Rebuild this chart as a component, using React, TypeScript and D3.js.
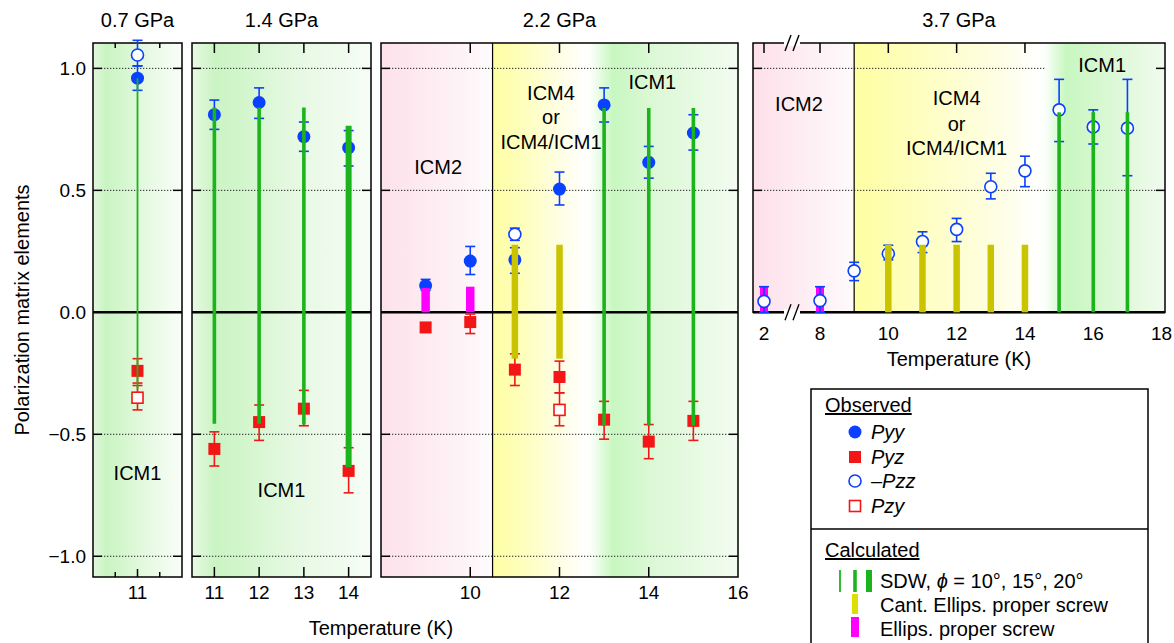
import * as d3 from 'd3';
import React, { useRef, useEffect } from 'react';

// --------------------------------------------------------
// values
// observed rows: [panel, temperature, value, error low, error high]
// --------------------------------------------------------
const panelTitles = ['0.7 GPa', '1.4 GPa', '2.2 GPa', '3.7 GPa'];

const pyy = [
  [0, 11, 0.96, 0.91, 1.01],
  [1, 11, 0.81, 0.75, 0.87],
  [1, 12, 0.86, 0.795, 0.92],
  [1, 13, 0.72, 0.66, 0.78],
  [1, 14, 0.675, 0.60, 0.745],
  [2, 9, 0.11, 0.09, 0.135],
  [2, 10, 0.21, 0.155, 0.27],
  [2, 11, 0.215, 0.16, 0.265],
  [2, 12, 0.505, 0.44, 0.575],
  [2, 13, 0.85, 0.78, 0.92],
  [2, 14, 0.615, 0.55, 0.68],
  [2, 15, 0.735, 0.665, 0.81],
];

const pyz = [
  [0, 11, -0.24, -0.29, -0.19],
  [1, 11, -0.56, -0.63, -0.49],
  [1, 12, -0.45, -0.525, -0.38],
  [1, 13, -0.395, -0.465, -0.32],
  [1, 14, -0.65, -0.74, -0.555],
  [2, 9, -0.062, -0.08, -0.045],
  [2, 10, -0.04, -0.087, -0.007],
  [2, 11, -0.235, -0.30, -0.17],
  [2, 12, -0.265, -0.33, -0.20],
  [2, 13, -0.44, -0.52, -0.365],
  [2, 14, -0.53, -0.60, -0.46],
  [2, 15, -0.445, -0.525, -0.365],
];

const minusPzz = [
  [0, 11, 1.055, 1.01, 1.115],
  [2, 11, 0.32, 0.295, 0.345],
  [3, 2, 0.045, 0.0, 0.105],
  [3, 8, 0.048, 0.0, 0.105],
  [3, 9, 0.17, 0.13, 0.205],
  [3, 10, 0.24, 0.215, 0.275],
  [3, 11, 0.29, 0.245, 0.33],
  [3, 12, 0.34, 0.29, 0.385],
  [3, 13, 0.515, 0.465, 0.57],
  [3, 14, 0.58, 0.515, 0.64],
  [3, 15, 0.83, 0.70, 0.955],
  [3, 16, 0.76, 0.69, 0.83],
  [3, 17, 0.755, 0.56, 0.955],
];

const pzy = [
  [0, 11, -0.35, -0.40, -0.30],
  [2, 12, -0.40, -0.465, -0.33],
];

// calculated rows: [panel, temperature, top, bottom, phi]
const sdw = [
  [0, 11, 0.96, -0.315, 10],
  [1, 11, 0.84, -0.457, 15],
  [1, 12, 0.84, -0.457, 15],
  [1, 13, 0.84, -0.46, 15],
  [1, 14, 0.765, -0.635, 20],
  [2, 13, 0.838, -0.464, 15],
  [2, 14, 0.838, -0.464, 15],
  [2, 15, 0.838, -0.464, 15],
  [3, 15, 0.82, 0, 15],
  [3, 16, 0.82, 0, 15],
  [3, 17, 0.82, 0, 15],
];

// [panel, temperature, top, bottom]
const cantScrew = [
  [2, 11, 0.277, -0.19],
  [2, 12, 0.277, -0.19],
  [3, 10, 0.277, 0],
  [3, 11, 0.277, 0],
  [3, 12, 0.277, 0],
  [3, 13, 0.277, 0],
  [3, 14, 0.277, 0],
];

const ellipsScrew = [
  [2, 9, 0.1, 0],
  [2, 10, 0.105, 0],
  [3, 2, 0.108, 0],
  [3, 8, 0.108, 0],
];

// phase labels: [panel, temperature, value, text]
const phaseLabels = [
  [0, 11, -0.66, 'ICM1'],
  [1, 12.5, -0.73, 'ICM1'],
  [2, 9.28, 0.596, 'ICM2'],
  [2, 11.81, 0.899, 'ICM4'],
  [2, 11.81, 0.80, 'or'],
  [2, 11.81, 0.698, 'ICM4/ICM1'],
  [2, 14.08, 0.944, 'ICM1'],
  [3, 5.75, 0.854, 'ICM2'],
  [3, 12.0, 0.878, 'ICM4'],
  [3, 12.0, 0.772, 'or'],
  [3, 12.0, 0.674, 'ICM4/ICM1'],
  [3, 16.26, 1.014, 'ICM1'],
];

const xTickLabels = [[11], [11, 12, 13, 14], [10, 12, 14, 16], [2, 8, 10, 12, 14, 16, 18]];
const yTickValues = [1.0, 0.5, 0.0, -0.5, -1.0];

// --------------------------------------------------------
// layout of the four panels
// --------------------------------------------------------
const FONT = "'Liberation Sans', Arial, Helvetica, sans-serif";
const TOP = 43;
const BOTTOM = 577;

const panels = [
  { left: 93, right: 182, domain: [10, 12], range: [93, 182], topTicks: [10.5, 11.5], bottomTicks: [11], minorTicks: [10.5, 11.5], divider: null },
  { left: 192, right: 371, domain: [10.5, 14.5], range: [192, 371], topTicks: [11, 12, 13, 14], bottomTicks: [11, 12, 13, 14], minorTicks: [], divider: null },
  { left: 381, right: 738, domain: [8, 16], range: [381, 738], topTicks: [10, 12, 14], bottomTicks: [10, 12, 14], minorTicks: [], divider: 10.5 },
  // broken axis: 2..8 squeezed, 8..18 linear
  { left: 753, right: 1165, domain: [0.8, 2, 8, 18.1], range: [753, 764, 820, 1165], topTicks: [2, 8, 10, 12, 14], bottomTicks: [], minorTicks: [], divider: 9 },
];

// background shading stops per panel: [temperature, colour]
const bgStops = [
  [[10, '#e2f7dc'], [10.3, '#c9f4c2'], [10.6, '#d3f6cc'], [11.3, '#e8fae4'], [12, '#fafef9']],
  [[10.5, '#e8f9e3'], [11.0, '#cbf4c4'], [11.5, '#d0f5c9'], [12.6, '#e3f8df'], [14.5, '#f7fdf6']],
  [[8, '#fde1eb'], [9.5, '#fdf0f4'], [10.5, '#fefbfc'], [10.5, '#fefea4'], [11.2, '#fefebe'], [12.0, '#fefee4'], [12.6, '#ffffff'], [12.7, '#fbfffa'], [13.2, '#c8f7c0'], [14, '#daf8d4'], [16, '#f3fcf1']],
  [[0.8, '#fde0ea'], [6, '#fdedf2'], [9, '#fefafb'], [9, '#fefea2'], [11, '#fefec2'], [13.3, '#fefee6'], [14.4, '#ffffff'], [14.6, '#fbfffa'], [15.2, '#c8f7c0'], [16.5, '#dbf8d5'], [18.1, '#f0fbee']],
];

const BLUE = '#0a40ff';
const RED = '#f21616';
const GREEN = '#1cb41c';
const OLIVE = '#c9c300';
const MAGENTA = '#ff00ff';
const sdwWidth = { 10: 1.8, 15: 3.6, 20: 6 };

function App() {
  const svgRef = useRef();

  useEffect(() => {
    const svg = d3.select(svgRef.current);
    svg.selectAll('*').remove();
    const defs = svg.append('defs');

    const y = d3.scaleLinear([-1.085, 1.104], [BOTTOM, TOP]);
    const xs = panels.map(p => d3.scaleLinear().domain(p.domain).range(p.range));

    const fmt = v => (v < 0 ? '\u2212' : '') + Math.abs(v).toFixed(1);

    // --------------------------------------------------------
    // panels: shading, grid, frame, ticks
    // --------------------------------------------------------
    panels.forEach((p, i) => {
      const x = xs[i];
      const bottom = i === 3 ? y(0) : BOTTOM;
      const g = svg.append('g');

      const grad = defs.append('linearGradient')
        .attr('id', `bg${i}`)
        .attr('gradientUnits', 'userSpaceOnUse')
        .attr('x1', p.left).attr('x2', p.right)
        .attr('y1', 0).attr('y2', 0);
      bgStops[i].forEach(([t, c]) => {
        grad.append('stop')
          .attr('offset', (x(t) - p.left) / (p.right - p.left))
          .attr('stop-color', c);
      });

      g.append('rect')
        .attr('x', p.left).attr('y', TOP)
        .attr('width', p.right - p.left).attr('height', bottom - TOP)
        .attr('fill', `url(#bg${i})`);

      // dotted grid with solid ticks at both ends
      yTickValues.filter(v => v !== 0 && (i < 3 || v > 0)).forEach(v => {
        const gx2 = (i === 3 && v === 1) ? x(14.6) : p.right - 8;
        g.append('line')
          .attr('x1', p.left + 8).attr('x2', gx2)
          .attr('y1', y(v)).attr('y2', y(v))
          .attr('stroke', '#222').attr('stroke-width', 1)
          .attr('stroke-dasharray', '1.3 1.7');
        [[p.left, p.left + 9], [p.right - 9, p.right]].forEach(([a, b]) => {
          g.append('line')
            .attr('x1', a).attr('x2', b)
            .attr('y1', y(v)).attr('y2', y(v))
            .attr('stroke', '#000').attr('stroke-width', 1.5);
        });
      });

      if (p.divider !== null) {
        g.append('line')
          .attr('x1', x(p.divider)).attr('x2', x(p.divider))
          .attr('y1', TOP).attr('y2', bottom)
          .attr('stroke', '#000').attr('stroke-width', 1.2);
      }

      g.append('rect')
        .attr('x', p.left).attr('y', TOP)
        .attr('width', p.right - p.left).attr('height', bottom - TOP)
        .attr('fill', 'none').attr('stroke', '#000').attr('stroke-width', 1.5);

      // thick zero line
      g.append('line')
        .attr('x1', p.left).attr('x2', p.right)
        .attr('y1', y(0)).attr('y2', y(0))
        .attr('stroke', '#000').attr('stroke-width', 2.6);

      const tickLen = i === 0 ? 5 : 10;
      p.topTicks.forEach(t => {
        g.append('line')
          .attr('x1', x(t)).attr('x2', x(t))
          .attr('y1', TOP).attr('y2', TOP + tickLen)
          .attr('stroke', '#000').attr('stroke-width', 1.5);
      });
      p.bottomTicks.forEach(t => {
        g.append('line')
          .attr('x1', x(t)).attr('x2', x(t))
          .attr('y1', bottom).attr('y2', bottom - (i === 0 ? 8 : 10))
          .attr('stroke', '#000').attr('stroke-width', 1.5);
      });
      p.minorTicks.forEach(t => {
        g.append('line')
          .attr('x1', x(t)).attr('x2', x(t))
          .attr('y1', bottom).attr('y2', bottom - 5)
          .attr('stroke', '#000').attr('stroke-width', 1.5);
      });

      // axis break marks on the 3.7 GPa panel
      if (i === 3) {
        const bx = (x(2) + x(8)) / 2;
        [TOP, bottom].forEach(by => {
          g.append('rect')
            .attr('x', bx - 8).attr('y', by - 3)
            .attr('width', 16).attr('height', 6)
            .attr('fill', '#fff');
          [-4, 4].forEach(dx => {
            g.append('line')
              .attr('x1', bx + dx - 3).attr('x2', bx + dx + 3)
              .attr('y1', by + 8).attr('y2', by - 8)
              .attr('stroke', '#000').attr('stroke-width', 1.4);
          });
        });
      }

      // title
      svg.append('text')
        .attr('x', (p.left + p.right) / 2).attr('y', 27)
        .attr('text-anchor', 'middle')
        .style('font', `20px ${FONT}`)
        .text(panelTitles[i]);

      // tick labels
      xTickLabels[i].forEach(t => {
        svg.append('text')
          .attr('x', x(t)).attr('y', i === 3 ? 340 : 599)
          .attr('text-anchor', 'middle')
          .style('font', `19px ${FONT}`)
          .text(t);
      });
    });

    // y axis labels
    yTickValues.forEach(v => {
      svg.append('text')
        .attr('x', 86).attr('y', y(v) + 7)
        .attr('text-anchor', 'end')
        .style('font', `19px ${FONT}`)
        .text(fmt(v));
    });
    svg.append('text')
      .attr('transform', `translate(29,${(TOP + BOTTOM) / 2}) rotate(-90)`)
      .attr('text-anchor', 'middle')
      .style('font', `20px ${FONT}`)
      .text('Polarization matrix elements');
    svg.append('text')
      .attr('x', 381).attr('y', 635)
      .attr('text-anchor', 'middle')
      .style('font', `20px ${FONT}`)
      .text('Temperature (K)');
    svg.append('text')
      .attr('x', (panels[3].left + panels[3].right) / 2).attr('y', 366)
      .attr('text-anchor', 'middle')
      .style('font', `20px ${FONT}`)
      .text('Temperature (K)');

    // phase labels
    phaseLabels.forEach(([pi, t, v, s]) => {
      svg.append('text')
        .attr('x', xs[pi](t)).attr('y', y(v))
        .attr('dy', '0.35em')
        .attr('text-anchor', 'middle')
        .style('font', `20px ${FONT}`)
        .text(s);
    });

    // --------------------------------------------------------
    // data: calculated bars and observed points
    // --------------------------------------------------------
    const bar = (rows, color, width) => {
      rows.forEach(([pi, t, top, bot, phi]) => {
        svg.append('line')
          .attr('x1', xs[pi](t)).attr('x2', xs[pi](t))
          .attr('y1', y(top)).attr('y2', y(bot))
          .attr('stroke', color)
          .attr('stroke-width', typeof width === 'function' ? width(phi) : width);
      });
    };

    // magenta bars sit below the open circles of the 3.7 GPa panel
    bar(ellipsScrew.filter(r => r[0] === 3), MAGENTA, 8);

    const errorBars = (rows, color) => {
      rows.forEach(([pi, t, , lo, hi]) => {
        const cx = xs[pi](t);
        svg.append('line')
          .attr('x1', cx).attr('x2', cx)
          .attr('y1', y(lo)).attr('y2', y(hi))
          .attr('stroke', color).attr('stroke-width', 1.6);
        [lo, hi].forEach(v => {
          svg.append('line')
            .attr('x1', cx - 5).attr('x2', cx + 5)
            .attr('y1', y(v)).attr('y2', y(v))
            .attr('stroke', color).attr('stroke-width', 1.6);
        });
      });
    };
    errorBars(pyy, BLUE);
    errorBars(pyz, RED);
    errorBars(minusPzz, BLUE);
    errorBars(pzy, RED);

    pyy.forEach(([pi, t, v]) => {
      svg.append('circle')
        .attr('cx', xs[pi](t)).attr('cy', y(v)).attr('r', 6.5)
        .attr('fill', BLUE);
    });
    pyz.forEach(([pi, t, v]) => {
      svg.append('rect')
        .attr('x', xs[pi](t) - 6).attr('y', y(v) - 6)
        .attr('width', 12).attr('height', 12)
        .attr('fill', RED);
    });
    minusPzz.forEach(([pi, t, v]) => {
      svg.append('circle')
        .attr('cx', xs[pi](t)).attr('cy', y(v)).attr('r', 6)
        .attr('fill', '#fff').attr('stroke', BLUE).attr('stroke-width', 1.6);
    });
    pzy.forEach(([pi, t, v]) => {
      svg.append('rect')
        .attr('x', xs[pi](t) - 5.5).attr('y', y(v) - 5.5)
        .attr('width', 11).attr('height', 11)
        .attr('fill', '#fff').attr('stroke', RED).attr('stroke-width', 1.6);
    });

    bar(ellipsScrew.filter(r => r[0] !== 3), MAGENTA, 8.5);
    bar(cantScrew, OLIVE, 6.5);
    bar(sdw, GREEN, phi => sdwWidth[phi]);

    // --------------------------------------------------------
    // legend box
    // --------------------------------------------------------
    const lg = svg.append('g');
    lg.append('rect')
      .attr('x', 811).attr('y', 389).attr('width', 337).attr('height', 270)
      .attr('fill', '#fff').attr('stroke', '#000').attr('stroke-width', 1.5);
    lg.append('line')
      .attr('x1', 811).attr('x2', 1148).attr('y1', 529).attr('y2', 529)
      .attr('stroke', '#000').attr('stroke-width', 1.5);

    [['Observed', 412], ['Calculated', 557]].forEach(([s, ty]) => {
      lg.append('text')
        .attr('x', 825).attr('y', ty)
        .attr('text-decoration', 'underline')
        .style('font', `20px ${FONT}`)
        .style('text-decoration', 'underline')
        .text(s);
    });

    const obsRows = [
      ['Pyy', 432, 'disc'],
      ['Pyz', 457, 'square'],
      ['\u2013Pzz', 481, 'ring'],
      ['Pzy', 506, 'box'],
    ];
    obsRows.forEach(([s, cy, kind]) => {
      if (kind === 'disc') lg.append('circle').attr('cx', 855).attr('cy', cy).attr('r', 6.5).attr('fill', BLUE);
      if (kind === 'ring') lg.append('circle').attr('cx', 855).attr('cy', cy).attr('r', 6).attr('fill', '#fff').attr('stroke', BLUE).attr('stroke-width', 1.6);
      if (kind === 'square') lg.append('rect').attr('x', 849).attr('y', cy - 6).attr('width', 12).attr('height', 12).attr('fill', RED);
      if (kind === 'box') lg.append('rect').attr('x', 849.5).attr('y', cy - 5.5).attr('width', 11).attr('height', 11).attr('fill', '#fff').attr('stroke', RED).attr('stroke-width', 1.6);
      lg.append('text')
        .attr('x', 871).attr('y', cy + 7)
        .style('font', `italic 20px ${FONT}`)
        .text(s);
    });

    [[840, 10], [855, 15], [869, 20]].forEach(([lx, phi]) => {
      lg.append('line')
        .attr('x1', lx).attr('x2', lx).attr('y1', 570).attr('y2', 592)
        .attr('stroke', GREEN).attr('stroke-width', sdwWidth[phi]);
    });
    lg.append('line').attr('x1', 855).attr('x2', 855).attr('y1', 594).attr('y2', 614)
      .attr('stroke', '#dede00').attr('stroke-width', 6);
    lg.append('line').attr('x1', 855).attr('x2', 855).attr('y1', 617).attr('y2', 637)
      .attr('stroke', MAGENTA).attr('stroke-width', 8);

    const sdwText = lg.append('text').attr('x', 880).attr('y', 588).style('font', `20px ${FONT}`);
    sdwText.append('tspan').text('SDW, ');
    sdwText.append('tspan').style('font-style', 'italic').text('\u03d5');
    sdwText.append('tspan').text(' = 10\u00b0, 15\u00b0, 20\u00b0');
    lg.append('text').attr('x', 880).attr('y', 612).style('font', `20px ${FONT}`).text('Cant. Ellips. proper screw');
    lg.append('text').attr('x', 880).attr('y', 636).style('font', `20px ${FONT}`).text('Ellips. proper screw');
  });

  return (
    <svg ref={svgRef} width={1174} height={643}
      style={{ position: 'absolute', left: 0, top: 0, background: '#fff' }} />
  );
}

export default App;
